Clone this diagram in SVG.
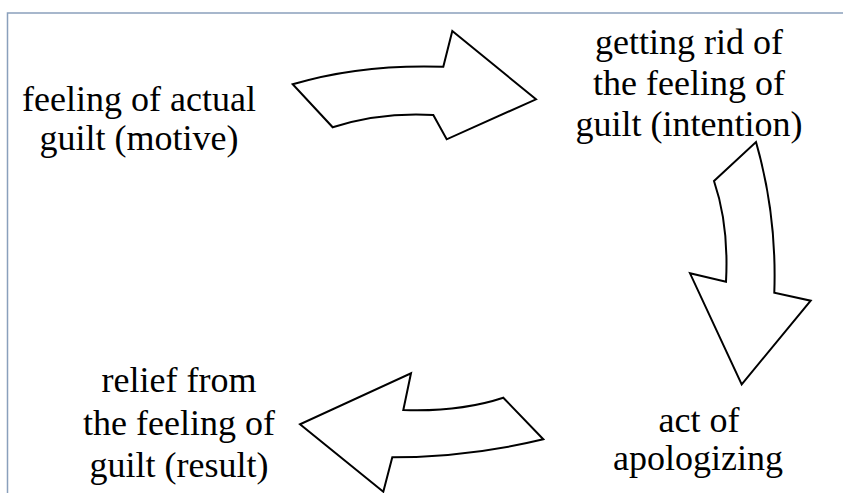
<svg xmlns="http://www.w3.org/2000/svg" width="843" height="493" viewBox="0 0 843 493">
<style>
.lbl{font-family:'Liberation Serif','DejaVu Serif','Times New Roman',serif;font-size:36px;fill:#000;text-anchor:middle}
.arr{fill:#fff;stroke:#000;stroke-width:2;stroke-linejoin:miter}
.frame{fill:none;stroke:#8aa0bc;stroke-width:1.5}
</style>
<rect width="843" height="493" fill="#fff"/>
<path class="frame" d="M7.5,493 V13 H843"/>
<g id="n1" font-family="Liberation Serif, serif"><text class="lbl" x="139" y="111">feeling of actual</text><text class="lbl" x="139" y="150">guilt (motive)</text></g>
<g id="n2" font-family="Liberation Serif, serif"><text class="lbl" x="689" y="54">getting rid of</text><text class="lbl" x="689" y="95">the feeling of</text><text class="lbl" x="689" y="136">guilt (intention)</text></g>
<g id="n3" font-family="Liberation Serif, serif"><text class="lbl" x="699" y="432">act of</text><text class="lbl" x="698" y="470">apologizing</text></g>
<g id="n4" font-family="Liberation Serif, serif"><text class="lbl" x="179" y="392">relief from</text><text class="lbl" x="179" y="435">the feeling of</text><text class="lbl" x="179" y="477">guilt (result)</text></g>
<g id="connectors">
<path class="arr" d="M292.7,84.3 Q360,64 443.3,66.7 L452.3,31 L536,99.3 L446.7,139.3 L433.3,115 Q380,112 332.7,127.3 Z"/>
<path class="arr" d="M714,181 L756,142 Q777,215 774.3,292.7 L810.7,300.7 L741.7,384.3 L690,273.3 L726,281.7 Q729,225 714,181 Z"/>
<path class="arr" d="M503.3,397.7 L543.3,439.3 Q470,457 392.3,457.3 L383.3,491.7 L300,424.3 L411,373.3 L403.3,410 Q460,412 503.3,397.7 Z"/>
</g>
</svg>
